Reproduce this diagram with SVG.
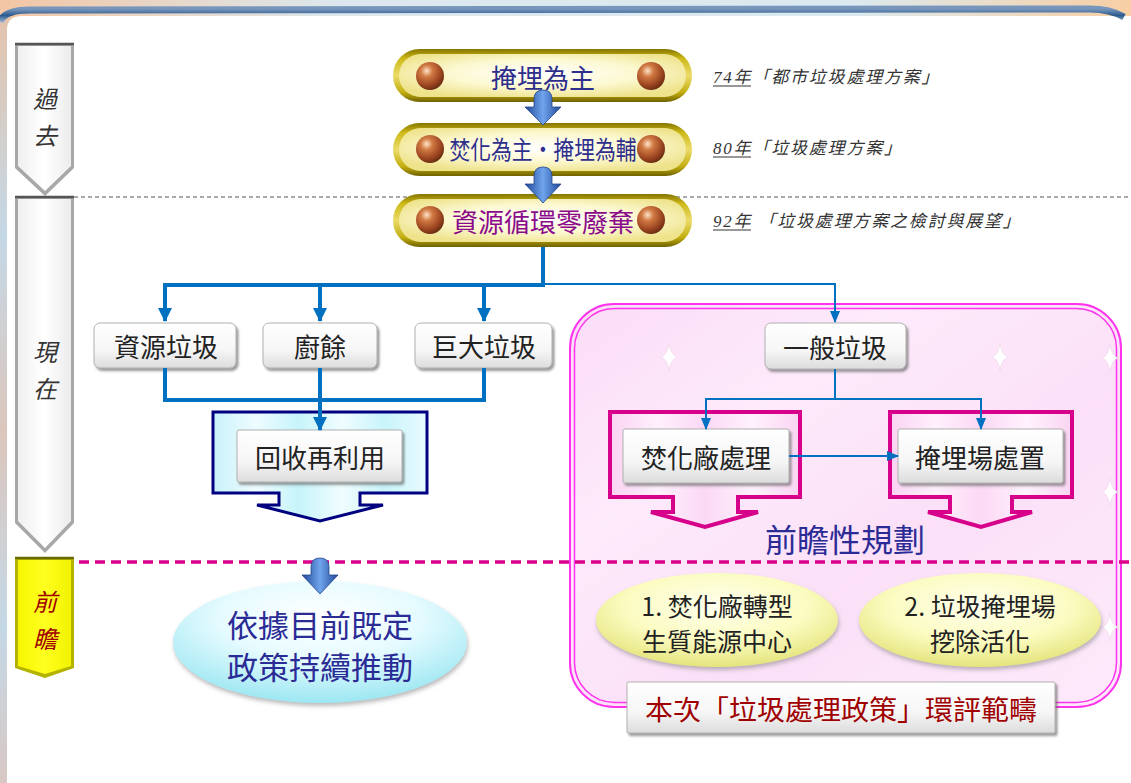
<svg xmlns="http://www.w3.org/2000/svg" width="1131" height="783" viewBox="0 0 1131 783">
<defs>
<style>
.cjk{font-family:"Noto Sans CJK TC","Noto Sans CJK SC",sans-serif;dominant-baseline:central;text-anchor:middle}
.tab{font-size:24px;font-style:italic;fill:#333}
.box{font-size:26px;fill:#222}
.note{font-family:"Liberation Serif","Noto Sans CJK TC",serif;font-size:17px;font-style:italic;fill:#333;dominant-baseline:central;letter-spacing:1.8px}
.btn{fill:url(#btnGrad);stroke:#b0b0b0;stroke-width:1;filter:url(#sh)}
.pillOuter{fill:url(#gold)}
.pillInner{fill:url(#pillIn)}
.ball{fill:url(#ballGrad)}
.arrow3d{fill:url(#blue3d);stroke:#24478a;stroke-width:0.8}
.thick{fill:none;stroke:#0070c0;stroke-width:4}
.thin{fill:none;stroke:#0070c0;stroke-width:2}
.spark{fill:#ffffff;stroke:#ecd2ea;stroke-width:0.6}
</style>
<linearGradient id="topBand" x1="0" y1="0" x2="1" y2="0">
<stop offset="0" stop-color="#f3c6a4"/><stop offset="0.3" stop-color="#dce8ee"/><stop offset="0.75" stop-color="#dbeaf0"/><stop offset="1" stop-color="#f8cfa4"/>
</linearGradient>
<linearGradient id="leftStrip" x1="0" y1="0" x2="0" y2="1">
<stop offset="0" stop-color="#e6c2a8"/><stop offset="0.3" stop-color="#c4d8e6"/><stop offset="0.55" stop-color="#dcc6bc"/><stop offset="0.8" stop-color="#c4d8e6"/><stop offset="1" stop-color="#d8c8c4"/>
</linearGradient>
<linearGradient id="blueBar" x1="0" y1="0" x2="0" y2="1">
<stop offset="0" stop-color="#7896bc"/><stop offset="0.5" stop-color="#2c5a8e"/><stop offset="1" stop-color="#9ab4d0"/>
</linearGradient>
<linearGradient id="greyTab" x1="0" y1="0" x2="1" y2="0">
<stop offset="0" stop-color="#f0f0f0"/><stop offset="0.5" stop-color="#ffffff"/><stop offset="1" stop-color="#ececec"/>
</linearGradient>
<linearGradient id="yellowTab" x1="0" y1="0" x2="1" y2="0">
<stop offset="0" stop-color="#f6f600"/><stop offset="0.5" stop-color="#ffff20"/><stop offset="1" stop-color="#f2f200"/>
</linearGradient>
<linearGradient id="gold" x1="0" y1="0" x2="0" y2="1">
<stop offset="0" stop-color="#857500"/><stop offset="0.18" stop-color="#cdb918"/><stop offset="0.5" stop-color="#ebdb68"/><stop offset="0.82" stop-color="#c2ae10"/><stop offset="1" stop-color="#706200"/>
</linearGradient>
<radialGradient id="pillIn" cx="0.5" cy="0.45" r="0.6">
<stop offset="0" stop-color="#ffffff"/><stop offset="0.55" stop-color="#fcf8d0"/><stop offset="1" stop-color="#eee28a"/>
</radialGradient>
<radialGradient id="ballGrad" cx="0.38" cy="0.32" r="0.7">
<stop offset="0" stop-color="#ffe4c8"/><stop offset="0.3" stop-color="#d27a44"/><stop offset="0.75" stop-color="#9a4420"/><stop offset="1" stop-color="#6a2c10"/>
</radialGradient>
<linearGradient id="blue3d" x1="0" y1="0" x2="1" y2="0">
<stop offset="0" stop-color="#21489a"/><stop offset="0.5" stop-color="#6fa4ec"/><stop offset="1" stop-color="#21489a"/>
</linearGradient>
<linearGradient id="btnGrad" x1="0" y1="0" x2="0" y2="1">
<stop offset="0" stop-color="#ffffff"/><stop offset="0.6" stop-color="#f6f6f6"/><stop offset="1" stop-color="#dcdcdc"/>
</linearGradient>
<linearGradient id="cyanFill" x1="0" y1="0" x2="1" y2="0">
<stop offset="0" stop-color="#c8f2fa"/><stop offset="0.2" stop-color="#eefcff"/><stop offset="0.4" stop-color="#c6f4fa"/><stop offset="0.6" stop-color="#f0fdff"/><stop offset="0.8" stop-color="#c8f4fa"/><stop offset="1" stop-color="#e8fbff"/>
</linearGradient>
<linearGradient id="pinkFill" x1="0" y1="0" x2="1" y2="0">
<stop offset="0" stop-color="#fad2f2"/><stop offset="0.25" stop-color="#fff0fc"/><stop offset="0.5" stop-color="#fbd8f4"/><stop offset="0.75" stop-color="#fff2fd"/><stop offset="1" stop-color="#fad4f2"/>
</linearGradient>
<linearGradient id="scopeFill" x1="0" y1="0" x2="1" y2="1">
<stop offset="0" stop-color="#fbdcf6"/><stop offset="0.3" stop-color="#fdeafb"/><stop offset="0.6" stop-color="#fbe0f7"/><stop offset="1" stop-color="#fdeafb"/>
</linearGradient>
<radialGradient id="cyanEll" cx="0.5" cy="0.3" r="0.75">
<stop offset="0" stop-color="#ffffff"/><stop offset="0.45" stop-color="#e6fbff"/><stop offset="1" stop-color="#92e4f0"/>
</radialGradient>
<radialGradient id="yelEll" cx="0.5" cy="0.35" r="0.7">
<stop offset="0" stop-color="#ffffee"/><stop offset="0.55" stop-color="#fbfbc0"/><stop offset="1" stop-color="#e0e070"/>
</radialGradient>
<filter id="sh" x="-10%" y="-15%" width="125%" height="145%">
<feDropShadow dx="2" dy="2.5" stdDeviation="1.2" flood-color="#555" flood-opacity="0.6"/>
</filter>
<filter id="shSoft" x="-10%" y="-15%" width="125%" height="145%">
<feDropShadow dx="1" dy="3" stdDeviation="2" flood-color="#777" flood-opacity="0.5"/>
</filter>
<marker id="headThick" markerUnits="userSpaceOnUse" markerWidth="14" markerHeight="14" refX="13" refY="7" orient="auto">
<path d="M0,0 L14,7 L0,14 Z" fill="#0070c0"/>
</marker>
<marker id="headThin" markerUnits="userSpaceOnUse" markerWidth="12" markerHeight="10" refX="11" refY="5" orient="auto">
<path d="M0,0 L12,5 L0,10 Z" fill="#0070c0"/>
</marker>
<path id="star" d="M0,-14 Q1.5,-2 8,0 Q1.5,2 0,14 Q-1.5,2 -8,0 Q-1.5,-2 0,-14 Z"/>
</defs>

<!-- background frame -->
<g id="frame">
<rect x="0" y="0" width="1131" height="783" fill="url(#leftStrip)"/>
<rect x="0" y="0" width="1131" height="18" fill="url(#topBand)"/>
<path d="M7,783 V30 Q7,16 22,16 H1131 V783 Z" fill="#ffffff"/>
<path d="M0,22 Q4,10 30,10 L1090,9 Q1110,9 1124,17" fill="none" stroke="url(#blueBar)" stroke-width="7"/>
</g>

<!-- section dividers -->
<g id="dividers">
<line x1="74" y1="197" x2="1131" y2="197" stroke="#555" stroke-width="1" stroke-dasharray="4 3"/>
</g>

<!-- scope region -->
<g id="scope">
<rect x="570" y="304" width="551" height="403" rx="44" fill="url(#scopeFill)" stroke="#ff33ee" stroke-width="2"/>
<rect x="574.5" y="308.5" width="542" height="394" rx="40" fill="none" stroke="#ff33ee" stroke-width="1.5"/>
<use href="#star" class="spark" x="669" y="357"/>
<use href="#star" class="spark" x="1000" y="357"/>
<use href="#star" class="spark" x="1110" y="358"/>
<use href="#star" class="spark" x="1110" y="492"/>
<use href="#star" class="spark" x="1110" y="627"/>
</g>

<line id="forecastLine" x1="15" y1="562" x2="1131" y2="562" stroke="#d9008c" stroke-width="3.5" stroke-dasharray="10 6"/>

<!-- tabs -->
<g id="tab-past">
<polygon points="15,43 74,43 74,168 45,196 15,168" fill="#a8a8a8"/>
<polygon points="18,46 71,46 71,166 45,191 18,166" fill="url(#greyTab)"/>
<line x1="15" y1="44" x2="74" y2="44" stroke="#555" stroke-width="2.5"/>
<text class="cjk tab" x="45" y="97">過</text>
<text class="cjk tab" x="45" y="134">去</text>
</g>
<g id="tab-now">
<polygon points="15,196 74,196 74,523 45,553 15,523" fill="#a8a8a8"/>
<polygon points="18,199 71,199 71,521 45,548 18,521" fill="url(#greyTab)"/>
<line x1="15" y1="197" x2="74" y2="197" stroke="#555" stroke-width="2.5"/>
<text class="cjk tab" x="45" y="350">現</text>
<text class="cjk tab" x="45" y="387">在</text>
</g>
<g id="tab-future">
<polygon points="15,557 74,557 74,668 45,678 15,668" fill="#b4b400"/>
<polygon points="18,560 71,560 71,666 45,674 18,666" fill="url(#yellowTab)"/>
<line x1="15" y1="558" x2="74" y2="558" stroke="#6a6a00" stroke-width="2.5"/>
<text class="cjk tab" x="45" y="600" style="fill:#a00000">前</text>
<text class="cjk tab" x="45" y="637" style="fill:#a00000">瞻</text>
</g>

<!-- pills -->
<g id="pill-landfill">
<rect class="pillOuter" x="393" y="49" width="299" height="53" rx="26.5"/>
<rect class="pillInner" x="399" y="54" width="287" height="43" rx="21.5"/>
<circle class="ball" cx="430" cy="76" r="14"/>
<circle class="ball" cx="651" cy="76" r="14"/>
<text class="cjk" x="543" y="76" font-size="26" fill="#2e2e8c">掩埋為主</text>
</g>
<g id="pill-incinerate">
<rect class="pillOuter" x="393" y="123" width="299" height="53" rx="26.5"/>
<rect class="pillInner" x="399" y="128" width="287" height="43" rx="21.5"/>
<circle class="ball" cx="430" cy="149" r="14"/>
<circle class="ball" cx="651" cy="149" r="14"/>
<text class="cjk" x="543" y="148" font-size="25" fill="#2e2e8c" textLength="187" lengthAdjust="spacingAndGlyphs">焚化為主・掩埋為輔</text>
</g>
<g id="pill-zerowaste">
<rect class="pillOuter" x="393" y="194" width="299" height="53" rx="26.5"/>
<rect class="pillInner" x="399" y="199" width="287" height="43" rx="21.5"/>
<circle class="ball" cx="430" cy="220" r="14"/>
<circle class="ball" cx="651" cy="220" r="14"/>
<text class="cjk" x="543" y="220" font-size="26" fill="#8a0a8a">資源循環零廢棄</text>
</g>

<!-- notes -->
<g id="notes">
<text class="note" x="713" y="77">74年「都市垃圾處理方案」</text>
<line x1="713" y1="86" x2="751" y2="86" stroke="#333" stroke-width="1"/>
<text class="note" x="713" y="148">80年「垃圾處理方案」</text>
<line x1="713" y1="157" x2="751" y2="157" stroke="#333" stroke-width="1"/>
<text class="note" x="713" y="221">92年 「垃圾處理方案之檢討與展望」</text>
<line x1="713" y1="230" x2="751" y2="230" stroke="#333" stroke-width="1"/>
</g>

<!-- category boxes -->
<g id="node-resource">
<rect class="btn" x="94" y="323" width="142" height="45" rx="6"/>
<text class="cjk box" x="166" y="345">資源垃圾</text>
</g>
<g id="node-kitchen">
<rect class="btn" x="263" y="323" width="114" height="45" rx="6"/>
<text class="cjk box" x="320" y="345">廚餘</text>
</g>
<g id="node-bulky">
<rect class="btn" x="415" y="323" width="137" height="45" rx="6"/>
<text class="cjk box" x="484" y="345">巨大垃圾</text>
</g>
<g id="node-general">
<rect class="btn" x="765" y="323" width="141" height="46" rx="6"/>
<text class="cjk box" x="835" y="346">一般垃圾</text>
</g>

<!-- recycle arrow -->
<g id="node-recycle">
<path d="M213,412 H427 V493 H360 V505 H383 L320,521 L257,505 H279 V493 H213 Z" fill="url(#cyanFill)" stroke="#000080" stroke-width="3"/>
<rect class="btn" x="237" y="430" width="165" height="52" rx="2"/>
<text class="cjk box" x="320" y="456">回收再利用</text>
</g>

<!-- incineration -->
<g id="node-incineration">
<path d="M610,412 H800 V497 H738 V512 H758 L705,527 L651,512 H673 V497 H610 Z" fill="url(#pinkFill)" stroke="#d6008a" stroke-width="4"/>
<rect class="btn" x="623" y="429" width="166" height="54" rx="2"/>
<text class="cjk box" x="706" y="456">焚化廠處理</text>
</g>
<g id="node-landfill">
<path d="M890,412 H1072 V497 H1012 V512 H1032 L981,527 L928,512 H950 V497 H890 Z" fill="url(#pinkFill)" stroke="#d6008a" stroke-width="4"/>
<rect class="btn" x="898" y="429" width="165" height="54" rx="2"/>
<text class="cjk box" x="980" y="456">掩埋場處置</text>
</g>

<text id="label-planning" class="cjk" x="845" y="538" font-size="32" fill="#2b2b96">前瞻性規劃</text>

<!-- future ellipses -->
<g id="node-continue">
<ellipse cx="320" cy="642" rx="147" ry="61" fill="url(#cyanEll)" filter="url(#shSoft)"/>
<text class="cjk" x="320" y="623" font-size="31" fill="#2b2b96">依據目前既定</text>
<text class="cjk" x="320" y="665" font-size="31" fill="#2b2b96">政策持續推動</text>
</g>
<g id="node-bioenergy">
<ellipse cx="717" cy="620" rx="121" ry="47" fill="url(#yelEll)" filter="url(#shSoft)"/>
<text class="cjk" x="717" y="605" font-size="25" fill="#222">1. 焚化廠轉型</text>
<text class="cjk" x="717" y="640" font-size="25" fill="#222">生質能源中心</text>
</g>
<g id="node-mining">
<ellipse cx="980" cy="620" rx="121" ry="47" fill="url(#yelEll)" filter="url(#shSoft)"/>
<text class="cjk" x="980" y="605" font-size="25" fill="#222">2. 垃圾掩埋場</text>
<text class="cjk" x="980" y="640" font-size="25" fill="#222">挖除活化</text>
</g>

<g id="node-scope-label">
<rect class="btn" x="627" y="682" width="428" height="51" rx="1"/>
<text class="cjk" x="841" y="708" font-size="27" fill="#a00000" textLength="392" lengthAdjust="spacingAndGlyphs">本次「垃圾處理政策」環評範疇</text>
</g>

<!-- connectors -->
<g id="connectors">
<path class="arrow3d" d="M534,99 Q534,90 543,90 Q552,90 552,99 V107 H561 L543,125 L525,107 H534 Z"/>
<path class="arrow3d" d="M534,176 Q534,167 543,167 Q552,167 552,176 V184 H561 L543,203 L525,184 H534 Z"/>
<path class="arrow3d" d="M311,567 Q311,558 320,558 Q329,558 329,567 V575 H338 L320,594 L302,575 H311 Z"/>
<path class="thick" d="M543,247 V285 H165 V321" marker-end="url(#headThick)"/>
<path class="thick" d="M320,285 V321" marker-end="url(#headThick)"/>
<path class="thick" d="M484,285 V321" marker-end="url(#headThick)"/>
<path class="thick" d="M165,368 V400 H484 V368"/>
<path class="thick" d="M320,368 V430" marker-end="url(#headThick)"/>
<path class="thin" d="M543,284 H835 V322" marker-end="url(#headThin)"/>
<path class="thin" d="M835,369 V399 H706 V429" marker-end="url(#headThin)"/>
<path class="thin" d="M835,399 H981 V429" marker-end="url(#headThin)"/>
<path class="thin" d="M789,456 H898" marker-end="url(#headThin)"/>
</g>
</svg>
